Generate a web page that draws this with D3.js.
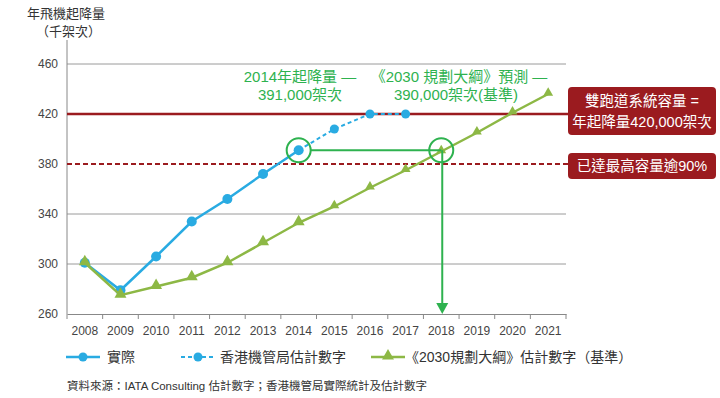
<!DOCTYPE html>
<html><head><meta charset="utf-8">
<script src="https://cdn.jsdelivr.net/npm/d3@7"></script>
<style>
body{margin:0;background:#fff;}
svg{display:block;font-family:"Liberation Sans","Noto Sans CJK TC",sans-serif;}
</style></head>
<body><svg id="c" width="720" height="398"></svg>
<script>
const years = ["2008","2009","2010","2011","2012","2013","2014","2015","2016","2017","2018","2019","2020","2021"];
const actualYears = ["2008","2009","2010","2011","2012","2013","2014"];
const actualValues = [301, 279, 306, 334, 352, 372, 391];
const haYears = ["2014","2015","2016","2017"];
const haValues = [391, 408, 420, 420];
const planValues = [301, 275, 282, 289, 301, 317, 333, 346, 361, 375, 390, 405, 421, 436];
const yTicks = [260, 300, 340, 380, 420, 460];
const capacity = 420;
const capacity90 = 380;
const legendLabels = ["實際", "香港機管局估計數字", "《2030規劃大綱》估計數字（基準）"];

const blue = "#29abe2", green = "#8db845", annoGreen = "#2eb24f", red = "#9b1b1f";
const svg = d3.select("#c");
const L = 67, R = 566, T = 40, B = 314;
const x = d3.scaleBand().domain(years).range([L, R]);
const cx = d => x(d) + x.bandwidth()/2;
const y = d3.scaleLinear().domain([260, 460]).range([B, 64]);

// y axis title
svg.append("text").attr("x", 27).attr("y", 18).attr("font-size", 13).attr("fill", "#333").text("年飛機起降量");
svg.append("text").attr("x", 36).attr("y", 36).attr("font-size", 13).attr("fill", "#333").text("（千架次）");

// gridlines
svg.append("g").selectAll("line").data(yTicks.filter(v => v !== 260 && v !== capacity && v !== capacity90)).join("line")
  .attr("x1", L).attr("x2", R).attr("y1", d => y(d)).attr("y2", d => y(d))
  .attr("stroke", "#9a9a9a").attr("stroke-width", 1);

// y tick labels
const yAxis = svg.append("g").attr("transform", `translate(${L},0)`)
  .call(d3.axisLeft(y).tickValues(yTicks).tickSize(0).tickPadding(9));
yAxis.select(".domain").remove();
yAxis.selectAll("text").attr("font-size", 12).attr("fill", "#444").attr("font-family", "Liberation Sans, sans-serif");
svg.append("line").attr("x1", L).attr("x2", L).attr("y1", T).attr("y2", B).attr("stroke", "#888");

// x axis
const xAxis = svg.append("g").attr("transform", `translate(0,${B})`)
  .call(d3.axisBottom(x).tickSize(0).tickPadding(12));
xAxis.select(".domain").attr("stroke", "#888");
xAxis.selectAll("text").attr("font-size", 12).attr("fill", "#444").attr("font-family", "Liberation Sans Narrow, Liberation Sans, sans-serif");
svg.append("g").selectAll("line").data(years.concat(["end"])).join("line")
  .attr("x1", (d,i) => L + i*x.step()).attr("x2", (d,i) => L + i*x.step())
  .attr("y1", B).attr("y2", B+5).attr("stroke", "#888");

// capacity lines
svg.append("line").attr("x1", L).attr("x2", 568).attr("y1", y(capacity)).attr("y2", y(capacity))
  .attr("stroke", red).attr("stroke-width", 2.5);
svg.append("line").attr("x1", L).attr("x2", 568).attr("y1", y(capacity90)).attr("y2", y(capacity90))
  .attr("stroke", red).attr("stroke-width", 1.8).attr("stroke-dasharray", "5,3");

const line = d3.line();
const tri = d3.symbol().type(d3.symbolTriangle);

// HA estimate (dashed blue)
svg.append("path").attr("d", line(haYears.map((d,i) => [cx(d), y(haValues[i])])))
  .attr("fill", "none").attr("stroke", blue).attr("stroke-width", 2).attr("stroke-dasharray", "4,3");
svg.append("g").selectAll("circle").data(haYears.slice(1)).join("circle")
  .attr("cx", d => cx(d)).attr("cy", (d,i) => y(haValues[i+1])).attr("r", 4.5).attr("fill", blue);

// actual (solid blue)
svg.append("path").attr("d", line(actualYears.map((d,i) => [cx(d), y(actualValues[i])])))
  .attr("fill", "none").attr("stroke", blue).attr("stroke-width", 2.5);
svg.append("g").selectAll("circle").data(actualYears).join("circle")
  .attr("cx", d => cx(d)).attr("cy", (d,i) => y(actualValues[i])).attr("r", 5).attr("fill", blue);

// plan series (green)
svg.append("path").attr("d", line(years.map((d,i) => [cx(d), y(planValues[i])])))
  .attr("fill", "none").attr("stroke", green).attr("stroke-width", 2.5);
svg.append("g").selectAll("path").data(years).join("path")
  .attr("d", (d,i) => tri.size(i <= 6 ? 62 : 42)())
  .attr("transform", (d,i) => `translate(${cx(d)},${y(planValues[i]) - 1})`)
  .attr("fill", green);

// annotation: green circles, connector, arrow
const p1 = [cx("2014"), y(actualValues[6])];
const p2 = [cx("2018"), y(planValues[10])];
svg.append("line").attr("x1", p1[0]+12).attr("x2", p2[0]).attr("y1", p1[1]).attr("y2", p1[1])
  .attr("stroke", annoGreen).attr("stroke-width", 2);
svg.append("line").attr("x1", p2[0]+1).attr("x2", p2[0]+1).attr("y1", p1[1]).attr("y2", B-9)
  .attr("stroke", annoGreen).attr("stroke-width", 2);
svg.append("path").attr("d", `M${p2[0]-5},${B-11}L${p2[0]+7},${B-11}L${p2[0]+1},${B}Z`).attr("fill", annoGreen);
[p1, p2].forEach(p => svg.append("circle").attr("cx", p[0]).attr("cy", p1[1]).attr("r", 12)
  .attr("fill", "none").attr("stroke", annoGreen).attr("stroke-width", 2));

const ann = svg.append("g").attr("font-size", 15).attr("fill", annoGreen).attr("text-anchor", "middle");
ann.append("text").attr("x", 300).attr("y", 82).text("2014年起降量 —");
ann.append("text").attr("x", 300).attr("y", 100).text("391,000架次");
ann.append("text").attr("x", 459).attr("y", 82).text("《2030 規劃大綱》預測 —");
ann.append("text").attr("x", 456).attr("y", 100).text("390,000架次(基準)");

// red boxes
svg.append("rect").attr("x", 568).attr("y", 87).attr("width", 148).attr("height", 48).attr("rx", 4).attr("fill", red);
svg.append("rect").attr("x", 568).attr("y", 153).attr("width", 148).attr("height", 26).attr("rx", 4).attr("fill", red);
const bt = svg.append("g").attr("font-size", 14.5).attr("fill", "#fff").attr("text-anchor", "middle");
bt.append("text").attr("x", 642).attr("y", 106).text("雙跑道系統容量 =");
bt.append("text").attr("x", 642).attr("y", 127).text("年起降量420,000架次");
bt.append("text").attr("x", 642).attr("y", 171).text("已達最高容量逾90%");

// legend
const lg = svg.append("g").attr("font-size", 14).attr("fill", "#333");
lg.append("line").attr("x1", 66).attr("x2", 100).attr("y1", 357).attr("y2", 357).attr("stroke", blue).attr("stroke-width", 2.5);
lg.append("circle").attr("cx", 83).attr("cy", 357).attr("r", 4.5).attr("fill", blue);
lg.append("text").attr("x", 107).attr("y", 362).text(legendLabels[0]);
lg.append("line").attr("x1", 181).attr("x2", 215).attr("y1", 357).attr("y2", 357).attr("stroke", blue).attr("stroke-width", 2).attr("stroke-dasharray", "4,3");
lg.append("circle").attr("cx", 198).attr("cy", 357).attr("r", 4.5).attr("fill", blue);
lg.append("text").attr("x", 220).attr("y", 362).text(legendLabels[1]);
lg.append("line").attr("x1", 371).attr("x2", 405).attr("y1", 357).attr("y2", 357).attr("stroke", green).attr("stroke-width", 2.5);
lg.append("path").attr("d", tri.size(62)()).attr("transform", "translate(388,356)").attr("fill", green);
lg.append("text").attr("x", 405).attr("y", 362).text(legendLabels[2]);

svg.append("text").attr("x", 67).attr("y", 390).attr("font-size", 11.5).attr("fill", "#333")
  .text("資料來源：IATA Consulting 估計數字；香港機管局實際統計及估計數字");
</script></body></html>
